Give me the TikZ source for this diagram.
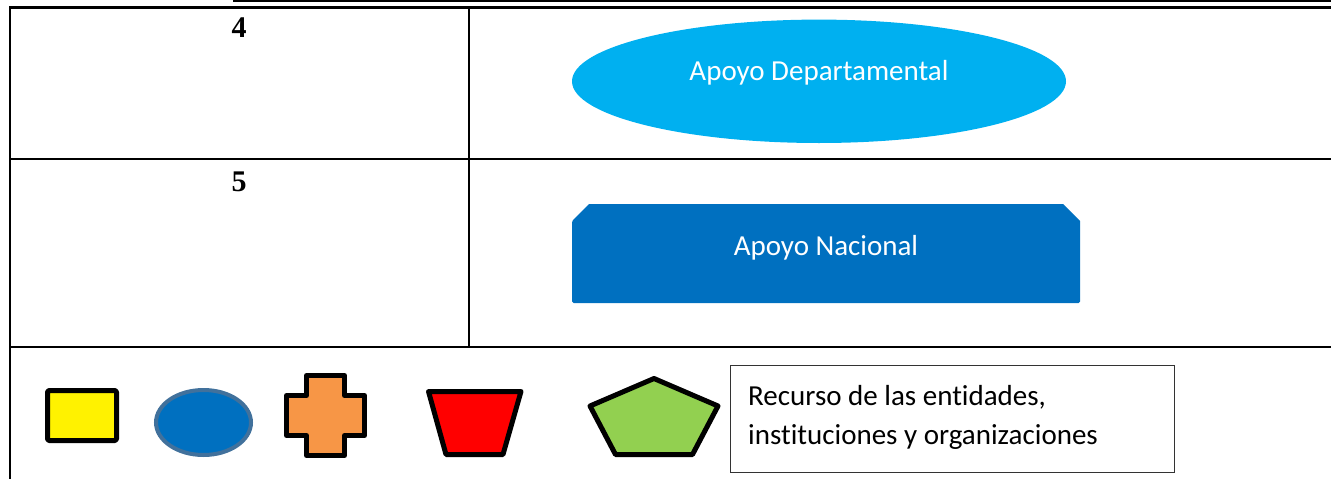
\documentclass[tikz,border=0pt]{standalone}
\usepackage{fontspec}
\setmainfont{Carlito}[Ligatures=NoCommon]
\newfontfamily\numfont{Liberation Serif}
\definecolor{skyblue}{HTML}{00B0F0}
\definecolor{natblue}{HTML}{0070C0}
\definecolor{ellborder}{HTML}{41719C}
\definecolor{orangeF}{HTML}{F79646}
\definecolor{greenF}{HTML}{92D050}
\begin{document}
\begin{tikzpicture}[x=1pt,y=-1pt,
  rule/.style={line width=2.2pt, draw=black},
  legshape/.style={line width=5pt, draw=black, line join=round},
  whitelbl/.style={font=\fontsize{29}{35}\selectfont, text=white, anchor=base, inner sep=0pt},
  numlbl/.style={font=\numfont\bfseries\fontsize{30}{35}\selectfont, anchor=base, inner sep=0pt},
  leglbl/.style={font=\fontsize{29}{35}\selectfont, anchor=base west, inner sep=0pt}]
\useasboundingbox (0,0) rectangle (1331,479);

% table rules
\draw[rule] (233,1.3) -- (1331,1.3);
\draw[rule] (9,7.5) -- (1331,7.5);
\draw[rule] (10,6.5) -- (10,479);
\draw[rule] (469,7.5) -- (469,347);
\draw[rule] (9,158.7) -- (1331,158.7);
\draw[rule] (9,346.7) -- (1331,346.7);

% row numbers
\node[numlbl] (n4) at (239,37) {4};
\node[numlbl] (n5) at (239,191) {5};

% row 4: ellipse
\fill[skyblue] (819,81.3) ellipse [x radius=247, y radius=61.7];
\node[whitelbl] (dep) at (819,80.5) {Apoyo Departamental};

% row 5: snipped rectangle
\fill[natblue, rounded corners=1.5pt] (572,303) -- (572,221) [sharp corners] -- (589,204) -- (1063,204) -- (1080,221) [rounded corners=1.5pt] -- (1080,303) -- cycle;
\node[whitelbl] (nac) at (826,255) {Apoyo Nacional};

% legend shapes
\filldraw[legshape, fill=yellow, rounded corners=1.5pt] (47.5,390.5) rectangle (116.5,440.5);
\filldraw[line width=4pt, draw=ellborder, fill=natblue] (203.5,422.5) ellipse [x radius=47.5, y radius=32.5];
\filldraw[legshape, fill=orangeF] (306.5,375.5) -- (344.5,375.5) -- (344.5,395.5) -- (364.5,395.5) -- (364.5,435.5) -- (344.5,435.5) -- (344.5,455.5) -- (306.5,455.5) -- (306.5,435.5) -- (286.5,435.5) -- (286.5,395.5) -- (306.5,395.5) -- cycle;
\filldraw[legshape, fill=red] (428.5,391.5) -- (521,391.5) -- (503,454.5) -- (446,454.5) -- cycle;
\filldraw[legshape, fill=greenF] (654,378.5) -- (718,406) -- (692.5,454.5) -- (615.5,454.5) -- (590,406) -- cycle;

% legend text box
\draw[line width=1pt, draw=black!80] (730,365) rectangle (1174,472);
\node[leglbl] (r1) at (748,405) {Recurso de las entidades,};
\node[leglbl] (r2) at (748,444) {instituciones y organizaciones};
\end{tikzpicture}
\end{document}
